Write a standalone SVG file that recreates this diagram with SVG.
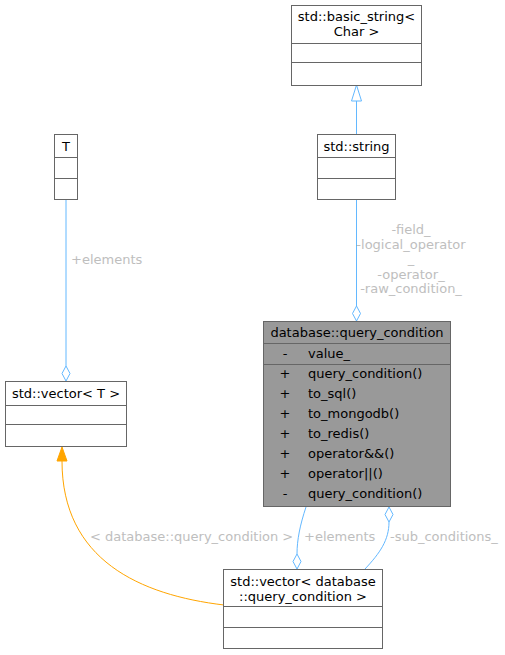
<svg xmlns="http://www.w3.org/2000/svg" width="505" height="655" viewBox="0 0 505 655">
<style>
.box{fill:#ffffff;stroke:#666666;stroke-width:1}
.sel{fill:#999999;stroke:#666666;stroke-width:1}
.div{stroke:#666666;stroke-width:1}
text{font-family:"DejaVu Sans","Liberation Sans",sans-serif;font-size:13px;fill:#000000}
.lbl{fill:#bebebe}
.e{fill:none;stroke:#63b8ff;stroke-width:1}
.o{fill:none;stroke:#ffa500;stroke-width:1}
</style>
<rect width="505" height="655" fill="#ffffff"/>
<g id="edges">
  <path class="e" d="M356.5,101 V134"/>
  <polygon points="356.5,85 351.5,101 361.5,101" fill="#ffffff" stroke="#63b8ff"/>
  <path class="e" d="M356.5,200 V306"/>
  <polygon points="356.5,306 352.5,313.5 356.5,321 360.5,313.5" fill="#ffffff" stroke="#63b8ff"/>
  <text class="lbl" x="411" y="234" text-anchor="middle">-field_</text>
  <text class="lbl" x="411" y="249" text-anchor="middle">-logical_operator</text>
  <text class="lbl" x="411" y="263" text-anchor="middle">_</text>
  <text class="lbl" x="411" y="279" text-anchor="middle">-operator_</text>
  <text class="lbl" x="411" y="293" text-anchor="middle">-raw_condition_</text>
  <path class="e" d="M66,200 V366"/>
  <polygon points="66,366 62,373.5 66,381 70,373.5" fill="#ffffff" stroke="#63b8ff"/>
  <text class="lbl" x="71" y="264">+elements</text>
  <path class="o" d="M224,605 C140,595 62,560 62,461"/>
  <polygon points="62,447 57,461 67,461" fill="#ffa500" stroke="#ffa500"/>
  <text class="lbl" x="90" y="541">&lt; database::query_condition &gt;</text>
  <path class="e" d="M306,507 C300,525 297,540 297,554"/>
  <polygon points="297,554 293,561.5 297,569 301,561.5" fill="#ffffff" stroke="#63b8ff"/>
  <text class="lbl" x="304" y="541">+elements</text>
  <path class="e" d="M365,569 C380,553 389,540 389,522"/>
  <polygon points="389,507 385,514.5 389,522 393,514.5" fill="#ffffff" stroke="#63b8ff"/>
  <text class="lbl" x="390" y="541">-sub_conditions_</text>
</g>
<g id="basic_string">
  <rect class="box" x="291.5" y="5.5" width="130" height="80"/>
  <line class="div" x1="291.5" y1="43.5" x2="421.5" y2="43.5"/>
  <line class="div" x1="291.5" y1="62.5" x2="421.5" y2="62.5"/>
  <text x="356.5" y="21" text-anchor="middle">std::basic_string&lt;</text>
  <text x="356.5" y="36" text-anchor="middle">Char &gt;</text>
</g>
<g id="std_string">
  <rect class="box" x="317.5" y="134.5" width="78" height="65"/>
  <line class="div" x1="317.5" y1="157.5" x2="395.5" y2="157.5"/>
  <line class="div" x1="317.5" y1="178.5" x2="395.5" y2="178.5"/>
  <text x="356.5" y="151" text-anchor="middle">std::string</text>
</g>
<g id="T">
  <rect class="box" x="54.5" y="134.5" width="23" height="65"/>
  <line class="div" x1="54.5" y1="157.5" x2="77.5" y2="157.5"/>
  <line class="div" x1="54.5" y1="178.5" x2="77.5" y2="178.5"/>
  <text x="66" y="151" text-anchor="middle">T</text>
</g>
<g id="vector_T">
  <rect class="box" x="5.5" y="381.5" width="121" height="65"/>
  <line class="div" x1="5.5" y1="405.5" x2="126.5" y2="405.5"/>
  <line class="div" x1="5.5" y1="424.5" x2="126.5" y2="424.5"/>
  <text x="66" y="398" text-anchor="middle">std::vector&lt; T &gt;</text>
</g>
<g id="query_condition">
  <rect class="sel" x="263.5" y="321.5" width="187" height="185"/>
  <line class="div" x1="263.5" y1="343.5" x2="450.5" y2="343.5"/>
  <line class="div" x1="263.5" y1="364.5" x2="450.5" y2="364.5"/>
  <text x="357" y="337" text-anchor="middle">database::query_condition</text>
  <text x="285" y="358" text-anchor="middle">-</text>
  <text x="308" y="358">value_</text>
  <text x="285" y="378" text-anchor="middle">+</text>
  <text x="308" y="378">query_condition()</text>
  <text x="285" y="398" text-anchor="middle">+</text>
  <text x="308" y="398">to_sql()</text>
  <text x="285" y="418" text-anchor="middle">+</text>
  <text x="308" y="418">to_mongodb()</text>
  <text x="285" y="438" text-anchor="middle">+</text>
  <text x="308" y="438">to_redis()</text>
  <text x="285" y="458" text-anchor="middle">+</text>
  <text x="308" y="458">operator&amp;&amp;()</text>
  <text x="285" y="478" text-anchor="middle">+</text>
  <text x="308" y="478">operator||()</text>
  <text x="285" y="498" text-anchor="middle">-</text>
  <text x="308" y="498">query_condition()</text>
</g>
<g id="vector_query_condition">
  <rect class="box" x="223.5" y="569.5" width="159" height="79"/>
  <line class="div" x1="223.5" y1="606.5" x2="382.5" y2="606.5"/>
  <line class="div" x1="223.5" y1="627.5" x2="382.5" y2="627.5"/>
  <text x="303" y="586" text-anchor="middle">std::vector&lt; database</text>
  <text x="303" y="601" text-anchor="middle">::query_condition &gt;</text>
</g>
</svg>
